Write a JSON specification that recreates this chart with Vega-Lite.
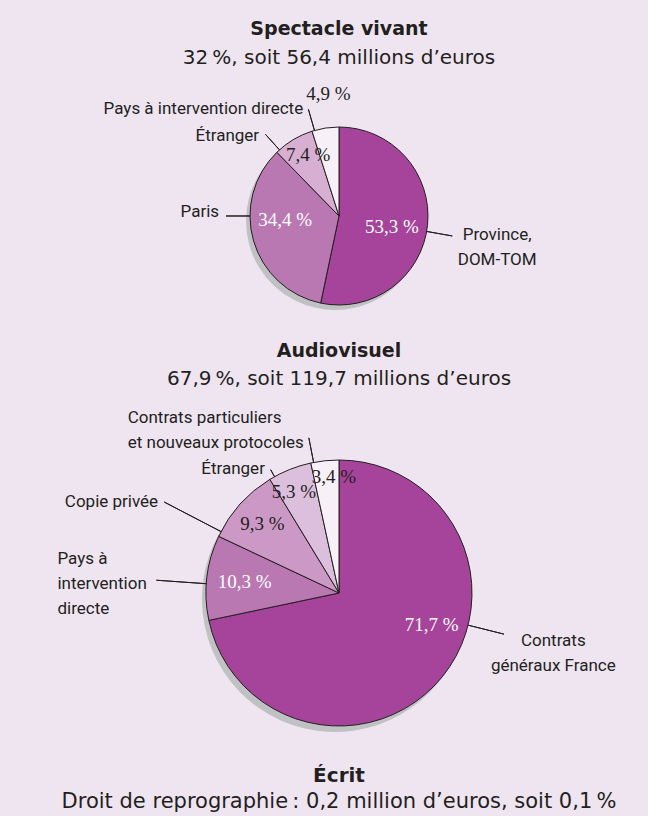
{
  "$schema": "https://vega.github.io/schema/vega-lite/v6.json",
  "background": "#efe5f1",
  "padding": {"left": 30, "top": 20, "right": 0, "bottom": 4},
  "spacing": 98,
  "bounds": "flush",
  "resolve": {"scale": {"color": "independent", "theta": "independent"}},
  "title": {
    "text": "Écrit",
    "subtitle": "Droit de reprographie\u202f: 0,2 million d’euros, soit 0,1\u202f%",
    "orient": "bottom",
    "anchor": "middle",
    "offset": 10,
    "subtitlePadding": 5,
    "font": "DejaVu Sans",
    "fontSize": 20,
    "fontWeight": "bold",
    "color": "#231f20",
    "subtitleFont": "DejaVu Sans",
    "subtitleFontSize": 21,
    "subtitleColor": "#231f20"
  },
  "config": {
    "view": {"stroke": null},
    "text": {"font": "Roboto", "fontSize": 17, "fill": "#231f20", "lineBreak": "\n", "lineHeight": 25, "baseline": "middle"},
    "title": {"font": "DejaVu Sans", "fontSize": 19, "fontWeight": "bold", "color": "#231f20", "subtitleFont": "DejaVu Sans", "subtitleFontSize": 20, "subtitleColor": "#231f20", "anchor": "middle"}
  },
  "vconcat": [
    {
      "width": 618,
      "height": 232,
      "title": {"text": "Spectacle vivant", "subtitle": "32\u202f%, soit 56,4 millions d’euros", "offset": 17, "subtitlePadding": 9},
      "data": {"values": [
        {"cat": "province", "label": "Province,\nDOM-TOM", "v": 53.3, "pct": "53,3 %"},
        {"cat": "paris", "label": "Paris", "v": 34.4, "pct": "34,4 %"},
        {"cat": "etranger", "label": "Étranger", "v": 7.4, "pct": "7,4 %"},
        {"cat": "pays", "label": "Pays à intervention directe", "v": 4.9, "pct": "4,9 %"}
      ]},
      "transform": [
        {"window": [{"op": "row_number", "as": "i"}]},
        {"stack": "v", "groupby": [], "sort": [{"field": "i", "order": "ascending"}], "as": ["v0", "v1"]}
      ],
      "encoding": {
        "theta": {"field": "v0", "type": "quantitative", "scale": {"domain": [0, 100]}}
      },
      "layer": [
        {"mark": {"type": "arc", "radius": 89, "fill": "#bfc1c2"},
         "encoding": {"theta2": {"field": "v1"}, "xOffset": {"value": -4}, "yOffset": {"value": 5}}},
        {"mark": {"type": "arc", "radius": 89, "stroke": "#231f20", "strokeWidth": 1},
         "encoding": {"theta2": {"field": "v1"}, "color": {"field": "cat", "type": "nominal", "legend": null,
           "scale": {"domain": ["province", "paris", "etranger", "pays"], "range": ["#a5449a", "#b978b1", "#d6afd3", "#f8f0f7"]}}}},
        {"transform": [{"filter": "datum.cat === 'province'"}],
         "mark": {"type": "arc", "radius": 115, "radius2": 89, "thetaOffset": 1.7453, "theta2Offset": 1.7453, "filled": false, "stroke": "#231f20", "strokeWidth": 1},
         "encoding": {"theta2": {"field": "v0"}}},
        {"transform": [{"filter": "datum.cat === 'paris'"}],
         "mark": {"type": "arc", "radius": 113, "radius2": 89, "thetaOffset": 1.3635, "theta2Offset": 1.3635, "filled": false, "stroke": "#231f20", "strokeWidth": 1},
         "encoding": {"theta2": {"field": "v0"}}},
        {"transform": [{"filter": "datum.cat === 'etranger'"}],
         "mark": {"type": "arc", "radius": 110, "radius2": 89, "thetaOffset": 0.0398, "theta2Offset": 0.0398, "filled": false, "stroke": "#231f20", "strokeWidth": 1},
         "encoding": {"theta2": {"field": "v0"}}},
        {"transform": [{"filter": "datum.cat === 'pays'"}],
         "mark": {"type": "arc", "radius": 111, "radius2": 89, "thetaOffset": 0.0286, "theta2Offset": 0.0286, "filled": false, "stroke": "#231f20", "strokeWidth": 1},
         "encoding": {"theta2": {"field": "v0"}}},
        {"transform": [{"filter": "datum.cat === 'province'"}],
         "mark": {"type": "text", "radius": 159, "thetaOffset": 1.6738, "align": "center", "dy": 3},
         "encoding": {"text": {"field": "label"}}},
        {"transform": [{"filter": "datum.cat === 'paris'"}],
         "mark": {"type": "text", "radius": 120, "thetaOffset": 1.4071, "align": "right", "dy": 1},
         "encoding": {"text": {"field": "label"}}},
        {"transform": [{"filter": "datum.cat === 'etranger'"}],
         "mark": {"type": "text", "radius": 115, "thetaOffset": 0.005, "align": "right", "dy": 3},
         "encoding": {"text": {"field": "label"}}},
        {"transform": [{"filter": "datum.cat === 'pays'"}],
         "mark": {"type": "text", "radius": 116, "thetaOffset": -0.006, "align": "right", "dy": 3},
         "encoding": {"text": {"field": "label"}}},
        {"transform": [{"filter": "datum.cat === 'pays'"}],
         "mark": {"type": "text", "radius": 122, "thetaOffset": 0.2206, "align": "center", "font": "Liberation Serif", "fontSize": 19},
         "encoding": {"text": {"field": "pct"}}},
        {"transform": [{"filter": "datum.cat === 'province'"}],
         "mark": {"type": "text", "radius": 54, "thetaOffset": 1.775, "align": "center", "fill": "white", "font": "Liberation Serif", "fontSize": 19},
         "encoding": {"text": {"field": "pct"}}},
        {"transform": [{"filter": "datum.cat === 'paris'"}],
         "mark": {"type": "text", "radius": 54, "thetaOffset": 1.29, "align": "center", "fill": "white", "font": "Liberation Serif", "fontSize": 19},
         "encoding": {"text": {"field": "pct"}}},
        {"transform": [{"filter": "datum.cat === 'etranger'"}],
         "mark": {"type": "text", "radius": 68, "thetaOffset": 0.3016, "align": "center", "font": "Liberation Serif", "fontSize": 19},
         "encoding": {"text": {"field": "pct"}}}
      ]
    },
    {
      "width": 618,
      "height": 326,
      "title": {"text": "Audiovisuel", "subtitle": "67,9\u202f%, soit 119,7 millions d’euros", "offset": 20, "subtitlePadding": 8},
      "data": {"values": [
        {"cat": "cgf", "label": "Contrats\ngénéraux France", "v": 71.7, "pct": "71,7 %"},
        {"cat": "pays", "label": "Pays à\nintervention\ndirecte", "v": 10.3, "pct": "10,3 %"},
        {"cat": "copie", "label": "Copie privée", "v": 9.3, "pct": "9,3 %"},
        {"cat": "etranger", "label": "Étranger", "v": 5.3, "pct": "5,3 %"},
        {"cat": "cpnp", "label": "Contrats particuliers\net nouveaux protocoles", "v": 3.4, "pct": "3,4 %"}
      ]},
      "transform": [
        {"window": [{"op": "row_number", "as": "i"}]},
        {"stack": "v", "groupby": [], "sort": [{"field": "i", "order": "ascending"}], "as": ["v0", "v1"]}
      ],
      "encoding": {
        "theta": {"field": "v0", "type": "quantitative", "scale": {"domain": [0, 100]}}
      },
      "layer": [
        {"mark": {"type": "arc", "radius": 133, "fill": "#bfc1c2"},
         "encoding": {"theta2": {"field": "v1"}, "xOffset": {"value": -4}, "yOffset": {"value": 6}}},
        {"mark": {"type": "arc", "radius": 133, "stroke": "#231f20", "strokeWidth": 1},
         "encoding": {"theta2": {"field": "v1"}, "color": {"field": "cat", "type": "nominal", "legend": null,
           "scale": {"domain": ["cgf", "pays", "copie", "etranger", "cpnp"], "range": ["#a5449a", "#b978b1", "#cc98c6", "#dcbfdc", "#f8f0f7"]}}}},
        {"transform": [{"filter": "datum.cat === 'cgf'"}],
         "mark": {"type": "arc", "radius": 170, "radius2": 133, "thetaOffset": 1.8151, "theta2Offset": 1.8151, "filled": false, "stroke": "#231f20", "strokeWidth": 1},
         "encoding": {"theta2": {"field": "v0"}}},
        {"transform": [{"filter": "datum.cat === 'pays'"}],
         "mark": {"type": "arc", "radius": 183, "radius2": 133, "thetaOffset": 0.2772, "theta2Offset": 0.2772, "filled": false, "stroke": "#231f20", "strokeWidth": 1},
         "encoding": {"theta2": {"field": "v0"}}},
        {"transform": [{"filter": "datum.cat === 'copie'"}],
         "mark": {"type": "arc", "radius": 197, "radius2": 133, "thetaOffset": 0.0401, "theta2Offset": 0.0401, "filled": false, "stroke": "#231f20", "strokeWidth": 1},
         "encoding": {"theta2": {"field": "v0"}}},
        {"transform": [{"filter": "datum.cat === 'etranger'"}],
         "mark": {"type": "arc", "radius": 141, "radius2": 133, "thetaOffset": 0.0405, "theta2Offset": 0.0405, "filled": false, "stroke": "#231f20", "strokeWidth": 1},
         "encoding": {"theta2": {"field": "v0"}}},
        {"transform": [{"filter": "datum.cat === 'cpnp'"}],
         "mark": {"type": "arc", "radius": 158, "radius2": 133, "thetaOffset": 0.0216, "theta2Offset": 0.0216, "filled": false, "stroke": "#231f20", "strokeWidth": 1},
         "encoding": {"theta2": {"field": "v0"}}},
        {"transform": [{"filter": "datum.cat === 'cgf'"}],
         "mark": {"type": "text", "radius": 219, "thetaOffset": 1.778, "align": "center", "dy": 3},
         "encoding": {"text": {"field": "label"}}},
        {"transform": [{"filter": "datum.cat === 'pays'"}],
         "mark": {"type": "text", "radius": 189, "thetaOffset": 0.2772, "align": "left", "dx": -93, "dy": -21},
         "encoding": {"text": {"field": "label"}}},
        {"transform": [{"filter": "datum.cat === 'copie'"}],
         "mark": {"type": "text", "radius": 203, "thetaOffset": 0.0314, "align": "right", "dy": 1},
         "encoding": {"text": {"field": "label"}}},
        {"transform": [{"filter": "datum.cat === 'etranger'"}],
         "mark": {"type": "text", "radius": 146, "thetaOffset": 0.0143, "align": "right", "dy": 2},
         "encoding": {"text": {"field": "label"}}},
        {"transform": [{"filter": "datum.cat === 'cpnp'"}],
         "mark": {"type": "text", "radius": 163, "thetaOffset": -0.0045, "align": "left", "dx": -176, "dy": -16},
         "encoding": {"text": {"field": "label"}}},
        {"transform": [{"filter": "datum.cat === 'cgf'"}],
         "mark": {"type": "text", "radius": 98, "thetaOffset": 1.902, "align": "center", "fill": "white", "font": "Liberation Serif", "fontSize": 19},
         "encoding": {"text": {"field": "pct"}}},
        {"transform": [{"filter": "datum.cat === 'pays'"}],
         "mark": {"type": "text", "radius": 95, "thetaOffset": 0.3243, "align": "center", "fill": "white", "font": "Liberation Serif", "fontSize": 19},
         "encoding": {"text": {"field": "pct"}}},
        {"transform": [{"filter": "datum.cat === 'copie'"}],
         "mark": {"type": "text", "radius": 103, "thetaOffset": 0.2932, "align": "center", "font": "Liberation Serif", "fontSize": 19},
         "encoding": {"text": {"field": "pct"}}},
        {"transform": [{"filter": "datum.cat === 'etranger'"}],
         "mark": {"type": "text", "radius": 111, "thetaOffset": 0.1278, "align": "center", "font": "Liberation Serif", "fontSize": 19},
         "encoding": {"text": {"field": "pct"}}},
        {"transform": [{"filter": "datum.cat === 'cpnp'"}],
         "mark": {"type": "text", "radius": 116, "thetaOffset": 0.17, "align": "center", "font": "Liberation Serif", "fontSize": 19},
         "encoding": {"text": {"field": "pct"}}}
      ]
    }
  ]
}
